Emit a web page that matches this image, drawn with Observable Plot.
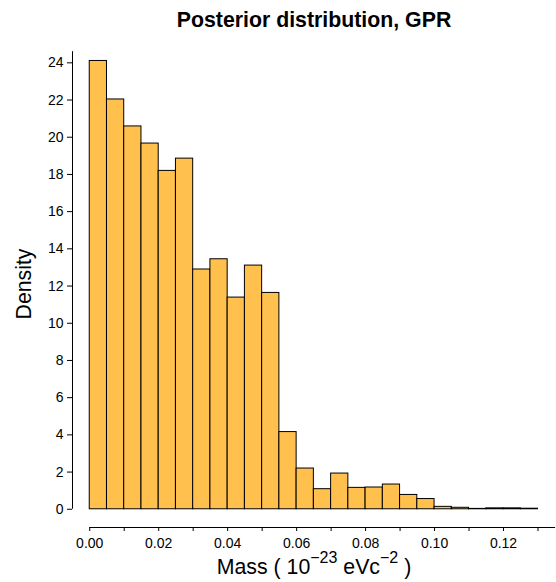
<!DOCTYPE html>
<html><head><meta charset="utf-8">
<script src="https://cdn.jsdelivr.net/npm/d3@7"></script>
<script src="https://cdn.jsdelivr.net/npm/@observablehq/plot@0.6"></script>
<style>html,body{margin:0;padding:0;background:#fff;} svg{display:block}</style>
</head><body><div id="chart"></div>
<script>
// Histogram bin edges (Mass, 10^-23 eV c^-2)
const binEdges = [0.000,0.005,0.010,0.015,0.020,0.025,0.030,0.035,0.040,0.045,0.050,0.055,0.060,0.065,
                  0.070,0.075,0.080,0.085,0.090,0.095,0.100,0.105,0.110,0.115,0.120,0.125,0.130];
// Density per bin
const density = [24.1,22.03,20.58,19.66,18.19,18.85,12.89,13.44,11.38,13.10,11.63,4.15,2.19,1.08,
                 1.92,1.15,1.17,1.33,0.77,0.55,0.13,0.08,0.02,0.05,0.05,0.03];
const yTicks = [0,2,4,6,8,10,12,14,16,18,20,22,24];
const xTicks = [0,0.01,0.02,0.03,0.04,0.05,0.06,0.07,0.08,0.09,0.10,0.11,0.12,0.13];
const xTickLabels = ["0.00","","0.02","","0.04","","0.06","","0.08","","0.10","","0.12",""];
const titleText = "Posterior distribution, GPR";
const yLabel = "Density";
const xLabelParts = [["Mass ( 10",false],["\u221223",true],[" eVc",false],["\u22122",true],[" )",false]];

const bars = density.map((d,i)=>({x1:binEdges[i], x2:binEdges[i+1], y:d}));
const XLABEL_PLACEHOLDER = "__XLABEL__";

const plot = Plot.plot({
  width:556, height:582,
  marginLeft:72, marginRight:18.5, marginTop:40, marginBottom:55,
  x:{domain:[-0.005,0.13]},
  y:{domain:[-0.98,25.2]},
  style:{fontFamily:"'Liberation Sans', Arial, sans-serif", background:"#fff", color:"#000"},
  marks:[
    Plot.rect(bars,{x1:"x1",x2:"x2",y1:0,y2:"y",fill:"#ffc04d",stroke:"#000",strokeWidth:1}),
    Plot.ruleX([-0.005],{y1:0,y2:24.6,stroke:"#000"}),
    Plot.ruleY([-0.98],{x1:0,x2:0.1351,stroke:"#000"}),
    Plot.axisY({ticks:yTicks, tickSize:5, tickPadding:4, fontSize:14, label:null, tickFormat:d=>String(d)}),
    Plot.axisX({ticks:xTicks, tickSize:4, tickPadding:7, fontSize:14, label:null,
      tickFormat:d=>xTickLabels[xTicks.findIndex(t=>Math.abs(t-d)<1e-9)] ?? ""}),
    Plot.text([titleText],{frameAnchor:"top", textAnchor:"middle", lineAnchor:"middle", dx:8.75, dy:-20, fontSize:21.3, fontWeight:"bold"}),
    Plot.text([yLabel],{frameAnchor:"left", textAnchor:"middle", lineAnchor:"middle", dx:-48, rotate:-90, fontSize:21.3}),
    Plot.text([XLABEL_PLACEHOLDER],{frameAnchor:"bottom", textAnchor:"middle", lineAnchor:"middle", dx:8.75, dy:40, fontSize:21.3})
  ]
});

// Build the x-axis label with real superscripts
plot.querySelectorAll("text").forEach(t=>{
  if (t.textContent === XLABEL_PLACEHOLDER) {
    t.textContent = "";
    const ns = "http://www.w3.org/2000/svg";
    let shifted = false;
    xLabelParts.forEach(([s,sup])=>{
      const ts = document.createElementNS(ns,"tspan");
      ts.textContent = s;
      if (sup && !shifted) { ts.setAttribute("dy","-11"); ts.setAttribute("font-size","16"); shifted = true; }
      else if (!sup && shifted) { ts.setAttribute("dy","11"); shifted = false; }
      else if (sup) { ts.setAttribute("font-size","16"); }
      t.appendChild(ts);
    });
  }
});

document.getElementById("chart").appendChild(plot);
</script>
</body></html>
